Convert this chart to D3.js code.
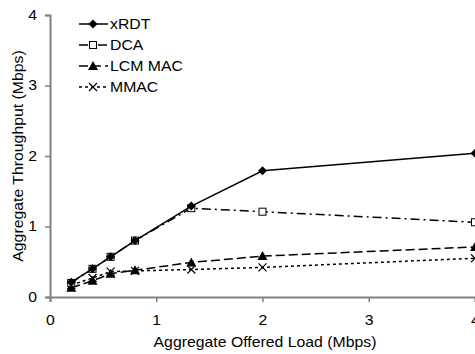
<!DOCTYPE html>
<html>
<head>
<meta charset="utf-8">
<script src="https://cdn.jsdelivr.net/npm/d3@7"></script>
<style>
  body { margin: 0; background: #fff; }
  text { font-family: "Liberation Sans", Arial, sans-serif; font-size: 14px; fill: #000; }
</style>
</head>
<body>
<svg id="chart"></svg>
<script>
const load = [0.2, 0.4, 0.57, 0.8, 1.33, 2, 4];
const xrdt = [0.21, 0.40, 0.57, 0.80, 1.29, 1.79, 2.04];
const dca = [0.20, 0.40, 0.57, 0.80, 1.26, 1.21, 1.06];
const lcm = [0.13, 0.23, 0.33, 0.38, 0.49, 0.58, 0.71];
const mmac = [0.17, 0.27, 0.36, 0.37, 0.39, 0.42, 0.55];
const seriesNames = ["xRDT", "DCA", "LCM MAC", "MMAC"];
const ticks = [0, 1, 2, 3, 4];

const width = 475, height = 354;
const stretch = 1.13; // the original text is a bit wider than it is tall

const svg = d3.select("#chart")
  .attr("width", width)
  .attr("height", height);

const x = d3.scaleLinear().domain([0, 4]).range([50, 475]);
const y = d3.scaleLinear().domain([0, 4]).range([297, 15]);

const series = [
  { name: seriesNames[0], values: xrdt, dash: null, marker: "diamond" },
  { name: seriesNames[1], values: dca, dash: "9,4,2,4", marker: "square" },
  { name: seriesNames[2], values: lcm, dash: "9,4", marker: "triangle" },
  { name: seriesNames[3], values: mmac, dash: "3,3", marker: "cross" }
];

// axes
const xAxis = d3.axisBottom(x).tickValues(ticks).tickSize(5).tickFormat(d3.format("d"));
const yAxis = d3.axisLeft(y).tickValues(ticks).tickSize(5).tickFormat(d3.format("d"));

const gx = svg.append("g")
  .attr("transform", `translate(0, ${y(0)})`)
  .call(xAxis);
const gy = svg.append("g")
  .attr("transform", `translate(${x(0)}, 0)`)
  .call(yAxis);

[gx, gy].forEach(g => {
  g.select(".domain").attr("stroke", "#808080").attr("stroke-width", 2);
  g.selectAll(".tick line").attr("stroke", "#808080").attr("stroke-width", 1.5);
  g.selectAll(".tick text")
    .attr("fill", "#000")
    .attr("font-size", null)
    .attr("font-family", null);
});
gx.attr("font-size", null).attr("font-family", null);
gy.attr("font-size", null).attr("font-family", null);

gx.selectAll(".tick text")
  .attr("y", 0).attr("dy", 0)
  .attr("transform", `translate(0, 28) scale(${stretch}, 1)`);
gy.selectAll(".tick text")
  .attr("x", 0)
  .attr("transform", `translate(-13, 0) scale(${stretch}, 1)`);

svg.append("text")
  .attr("transform", `translate(265, 347) scale(${stretch}, 1)`)
  .attr("text-anchor", "middle")
  .text("Aggregate Offered Load (Mbps)");

svg.append("text")
  .attr("transform", `translate(23, ${y(2)}) rotate(-90) scale(${stretch}, 1)`)
  .attr("text-anchor", "middle")
  .text("Aggregate Throughput (Mbps)");

// markers
function drawMarker(g, type, cx, cy) {
  if (type === "diamond") {
    g.append("path")
      .attr("d", `M${cx},${cy - 4.5}L${cx + 4.5},${cy}L${cx},${cy + 4.5}L${cx - 4.5},${cy}Z`)
      .attr("fill", "#000");
  } else if (type === "square") {
    g.append("rect")
      .attr("x", cx - 3.5).attr("y", cy - 3.5)
      .attr("width", 7).attr("height", 7)
      .attr("fill", "#fff").attr("stroke", "#000").attr("stroke-width", 1);
  } else if (type === "triangle") {
    g.append("path")
      .attr("d", `M${cx},${cy - 5}L${cx + 5},${cy + 4}L${cx - 5},${cy + 4}Z`)
      .attr("fill", "#000");
  } else {
    g.append("path")
      .attr("d", `M${cx - 4},${cy - 4}L${cx + 4},${cy + 4}M${cx - 4},${cy + 4}L${cx + 4},${cy - 4}`)
      .attr("stroke", "#000").attr("stroke-width", 1.2);
  }
}

const line = d3.line()
  .x(d => x(d[0]))
  .y(d => y(d[1]));

// draw in reverse so xRDT sits on top
series.slice().reverse().forEach(s => {
  const pts = load.map((l, i) => [l, s.values[i]]);
  const g = svg.append("g");
  g.append("path")
    .datum(pts)
    .attr("d", line)
    .attr("fill", "none")
    .attr("stroke", "#000")
    .attr("stroke-width", 1.5)
    .attr("stroke-dasharray", s.dash);
  pts.forEach(p => drawMarker(g, s.marker, x(p[0]), y(p[1])));
});

// legend
const legend = svg.append("g");
series.forEach((s, i) => {
  const ly = 24 + i * 21;
  const lg = legend.append("g");
  lg.append("line")
    .attr("x1", 79).attr("x2", 108)
    .attr("y1", ly).attr("y2", ly)
    .attr("stroke", "#000")
    .attr("stroke-width", 1.5)
    .attr("stroke-dasharray", s.dash);
  drawMarker(lg, s.marker, 93, ly);
  lg.append("text")
    .attr("transform", `translate(110, ${ly}) scale(${stretch}, 1)`)
    .attr("dy", "0.35em")
    .text(s.name);
});
</script>
</body>
</html>
